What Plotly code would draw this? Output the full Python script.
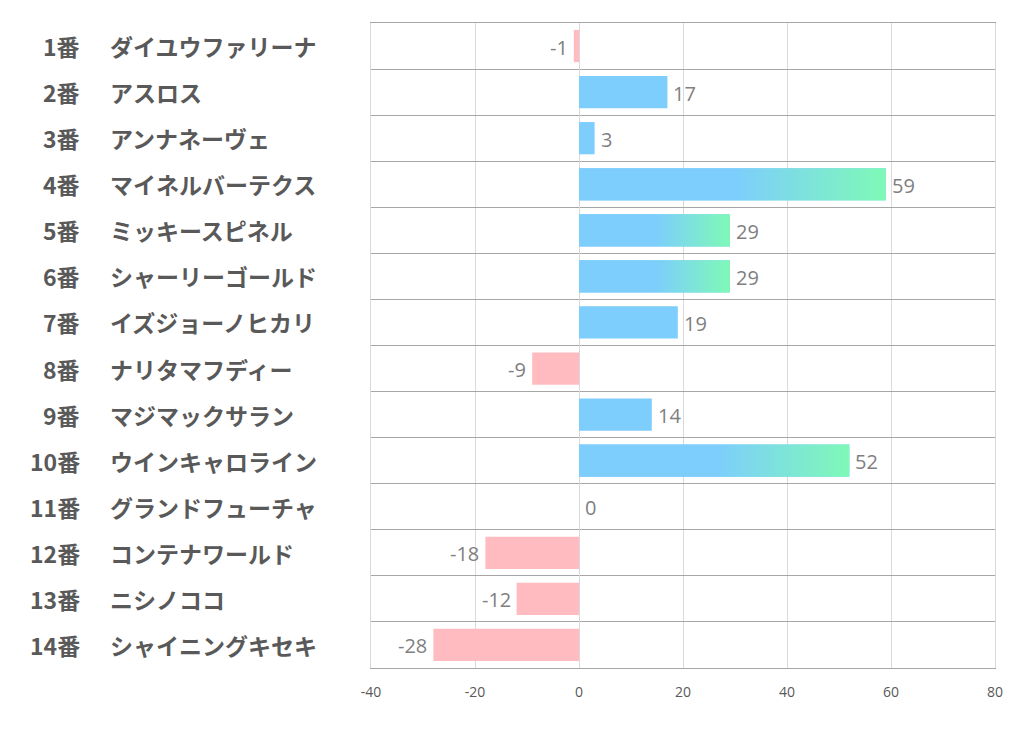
import plotly.graph_objects as go

numbers = ["1番", "2番", "3番", "4番", "5番", "6番", "7番", "8番", "9番", "10番", "11番", "12番", "13番", "14番"]
names = ["ダイユウファリーナ", "アスロス", "アンナネーヴェ", "マイネルバーテクス", "ミッキースピネル",
         "シャーリーゴールド", "イズジョーノヒカリ", "ナリタマフディー", "マジマックサラン",
         "ウインキャロライン", "グランドフューチャ", "コンテナワールド", "ニシノココ", "シャイニングキセキ"]
values = [-1, 17, 3, 59, 29, 29, 19, -9, 14, 52, 0, -18, -12, -28]
x_ticks = [-40, -20, 0, 20, 40, 60, 80]
x_tick_text = ["-40", "-20", "0", "20", "40", "60", "80"]

BLUE = "#7dcdfd"
GREEN = "#7ef9b7"
PINK = "#ffbbbf"
GRAD_MIN = 20
BAR_W = 0.7

# page body has an 8px margin; compensate
OFF = 8
W, H = 1006, 714
L = 371 - OFF
T = 23 - OFF
R = W - (995 - OFF)
B = H - (668 - OFF)
pw = W - L - R

idx = list(range(len(values)))
colors = [PINK if v < 0 else BLUE for v in values]

fig = go.Figure()
fig.add_trace(go.Bar(
    x=values, y=idx, orientation="h", width=BAR_W,
    marker=dict(color=colors, line=dict(width=0)),
    hoverinfo="skip",
))

for i, v in zip(idx, values):
    if v >= GRAD_MIN:
        y0, y1 = i - BAR_W / 2, i + BAR_W / 2
        fig.add_trace(go.Scatter(
            x=[0, v, v, 0, 0], y=[y0, y0, y1, y1, y0],
            mode="lines", line=dict(width=0), fill="toself",
            fillgradient=dict(type="horizontal", colorscale=[[0, BLUE], [1, GREEN]],
                              start=v / 2, stop=v),
            hoverinfo="skip", showlegend=False,
        ))

lab_font = dict(family="Noto Sans CJK JP", size=23, color="#595959", weight="bold")
val_font = dict(family="Open Sans", size=20, color="#7f7f7f")
ann = []
for i, (n, nm, v) in enumerate(zip(numbers, names, values)):
    ann.append(dict(x=(82 - 371) / pw, y=i, xref="paper", yref="y", text=n, showarrow=False,
                    xanchor="right", yanchor="middle", font=lab_font))
    ann.append(dict(x=(108 - 371) / pw, y=i, xref="paper", yref="y", text=nm, showarrow=False,
                    xanchor="left", yanchor="middle", font=lab_font))
    ann.append(dict(x=v, y=i, xref="x", yref="y", text=str(v), showarrow=False,
                    xanchor="right" if v < 0 else "left", xshift=-4 if v < 0 else 4,
                    yanchor="middle", yshift=-1, font=val_font))

n = len(values)
fig.update_layout(
    width=W, height=H, margin=dict(l=L, r=R, t=T, b=B),
    plot_bgcolor="white", paper_bgcolor="white", showlegend=False,
    annotations=ann,
    xaxis=dict(range=[-40, 80], tickvals=x_ticks, ticktext=x_tick_text,
               showgrid=True, gridcolor="#d9d9d9", gridwidth=1,
               zeroline=True, zerolinecolor="#d9d9d9", zerolinewidth=1,
               tickfont=dict(family="Open Sans", size=14, color="#595959"),
               ticks="", ticklabelstandoff=11,
               showline=True, mirror=True, linecolor="#a6a6a6", linewidth=1,
               fixedrange=True),
    yaxis=dict(range=[n - 0.5, -0.5], tickvals=[k - 0.5 for k in range(n + 1)],
               showticklabels=False, showgrid=True, gridcolor="#a6a6a6", gridwidth=1,
               zeroline=False, ticks="",
               showline=True, mirror=True, linecolor="#d9d9d9", linewidth=1,
               fixedrange=True),
)
fig.write_html("out.html")
